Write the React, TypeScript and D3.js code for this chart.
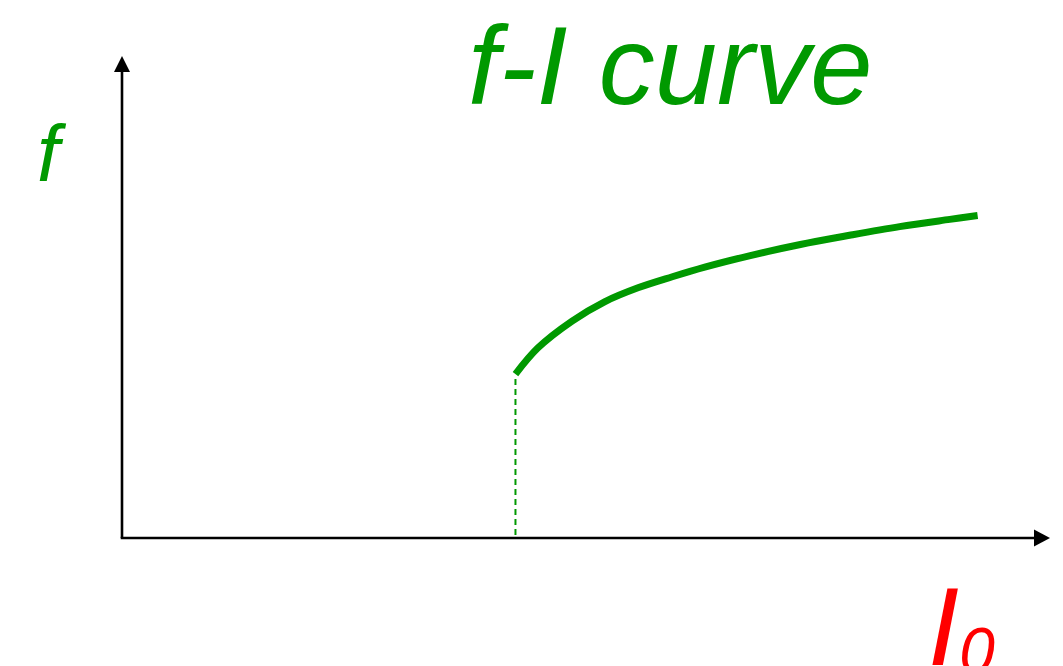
import React from "react";
import * as d3 from "d3";

// Firing rate f versus injected current I0 (arbitrary units, 0–100 on each axis)
const currentValues = [42.4, 44.8, 48.5, 52.0, 55.6, 59.3, 62.8, 67.7, 73.1, 78.4, 83.8, 89.2, 92.2];
const rateValues = [34.0, 39.4, 45.0, 49.0, 51.9, 54.2, 56.2, 58.6, 60.9, 62.8, 64.6, 66.1, 66.9];
const thresholdCurrent = 42.4;
const thresholdRate = 33.0;

const titleText = "f-I curve";
const yLabel = "f";
const xLabel = "I";
const xLabelSub = "0";

const W = 1063;
const H = 666;
const GREEN = "#009900";
const FONT = "'Liberation Sans', Arial, sans-serif";

export default function App() {
  const x = d3.scaleLinear().domain([0, 100]).range([122, 1050]);
  const y = d3.scaleLinear().domain([0, 100]).range([538, 56]);

  const points: [number, number][] = currentValues.map((c, i) => [c, rateValues[i]]);
  const line = d3
    .line<[number, number]>()
    .x((d) => x(d[0]))
    .y((d) => y(d[1]))
    .curve(d3.curveCatmullRom.alpha(0.5));

  const x0 = x(0);
  const y0 = y(0);
  const xEnd = x(100);
  const yEnd = y(100);
  const head = 16;

  return (
    <svg
      width={W}
      height={H}
      style={{ position: "absolute", left: 0, top: 0, background: "#fff" }}
    >
      {/* axes */}
      <line x1={x0} y1={y0} x2={x0} y2={yEnd + head - 1} stroke="#000" strokeWidth={2.6} />
      <polygon
        points={`${x0},${yEnd} ${x0 - 8},${yEnd + head} ${x0 + 8},${yEnd + head}`}
        fill="#000"
      />
      <line x1={x0 - 1.3} y1={y0} x2={xEnd - head + 1} y2={y0} stroke="#000" strokeWidth={2.6} />
      <polygon
        points={`${xEnd},${y0} ${xEnd - head},${y0 - 8.5} ${xEnd - head},${y0 + 8.5}`}
        fill="#000"
      />

      {/* threshold marker */}
      <line
        x1={x(thresholdCurrent)}
        y1={y(thresholdRate)}
        x2={x(thresholdCurrent)}
        y2={y0 - 1}
        stroke={GREEN}
        strokeWidth={2}
        strokeDasharray="6 4"
      />

      {/* f-I curve */}
      <path d={line(points) ?? ""} fill="none" stroke={GREEN} strokeWidth={7} strokeLinecap="butt" />

      {/* labels */}
      <text x={468} y={104} fontFamily={FONT} fontStyle="italic" fontSize={112} fill={GREEN}>
        {titleText}
      </text>
      <text x={37} y={181} fontFamily={FONT} fontStyle="italic" fontSize={80} fill={GREEN}>
        {yLabel}
      </text>
      <text x={928} y={665} fontFamily={FONT} fontStyle="italic" fontSize={112} fill="#ff0000">
        {xLabel}
        <tspan fontSize={64} dy={8}>
          {xLabelSub}
        </tspan>
      </text>
    </svg>
  );
}
